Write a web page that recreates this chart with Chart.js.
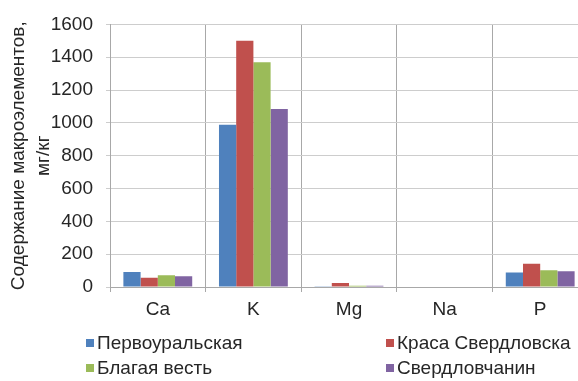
<!DOCTYPE html>
<html>
<head>
<meta charset="utf-8">
<script src="https://cdn.jsdelivr.net/npm/chart.js@4"></script>
<style>
  html, body { margin: 0; padding: 0; background: #fff; overflow: hidden; }
  #wrap { width: 578px; height: 381px; overflow: hidden; }
  canvas { display: block; }
</style>
</head>
<body>
<div id="wrap"><canvas id="chart" width="600" height="381"></canvas></div>
<script>
// Macronutrient content by variety, mg/kg
const categories = ['Ca', 'K', 'Mg', 'Na', 'P'];
const seriesNames = ['Первоуральская', 'Краса Свердловска', 'Благая весть', 'Свердловчанин'];
const pervouralskaya = [92, 988, 2, 0, 88];
const krasaSverdlovska = [56, 1500, 24, 0, 142];
const blagayaVest = [72, 1370, 8, 0, 102];
const sverdlovchanin = [66, 1084, 7, 0, 96];
const yTicks = [0, 200, 400, 600, 800, 1000, 1200, 1400, 1600];
const axisTitle = ['Содержание макроэлементов,', 'мг/кг'];

const colors = ['#4F81BD', '#C0504D', '#9BBB59', '#8064A2'];
const seriesValues = [pervouralskaya, krasaSverdlovska, blagayaVest, sverdlovchanin];
const FONT = "'Liberation Sans', Arial, sans-serif";
const TEXT = '#262626';
const FS = 19;

// Two-column legend drawn below the axis
const gridLegend = {
  id: 'gridLegend',
  afterDraw(chart) {
    const ctx = chart.ctx;
    const cols = [86, 386];
    const rows = [343, 368];
    ctx.save();
    ctx.font = FS + 'px ' + FONT;
    ctx.textBaseline = 'middle';
    ctx.textAlign = 'left';
    chart.data.datasets.forEach((ds, i) => {
      const x = cols[i % 2];
      const y = rows[Math.floor(i / 2)];
      ctx.fillStyle = ds.backgroundColor;
      ctx.fillRect(x, y - 4, 8, 8);
      ctx.fillStyle = TEXT;
      ctx.fillText(ds.label, x + 11, y + 1);
    });
    ctx.restore();
  }
};

new Chart(document.getElementById('chart'), {
  type: 'bar',
  data: {
    labels: categories,
    datasets: seriesNames.map((name, i) => ({
      label: name,
      data: seriesValues[i],
      backgroundColor: colors[i],
      borderWidth: 0,
      barPercentage: 1,
      categoryPercentage: 0.72
    }))
  },
  options: {
    responsive: false,
    devicePixelRatio: 1,
    animation: false,
    layout: { padding: { left: 0, right: 12, top: 21, bottom: 54 } },
    plugins: {
      legend: { display: false },
      tooltip: { enabled: false }
    },
    scales: {
      x: {
        grid: { offset: true, color: '#a8a8a8', tickLength: 5, lineWidth: 1 },
        border: { display: true, color: '#a8a8a8' },
        ticks: { font: { family: FONT, size: FS }, color: TEXT, padding: 6 },
        afterFit(scale) { scale.height = 40; }
      },
      y: {
        min: 0,
        max: 1600,
        afterBuildTicks(scale) { scale.ticks = yTicks.map(v => ({ value: v })); },
        grid: { color: '#cdcdcd', tickLength: 4 },
        border: { display: true, color: '#a8a8a8' },
        ticks: {
          font: { family: FONT, size: FS },
          color: TEXT,
          padding: 13,
          callback: v => String(v)
        },
        title: {
          display: true,
          text: axisTitle,
          font: { family: FONT, size: FS, lineHeight: 1.32 },
          color: TEXT,
          padding: { top: 6, bottom: 0 }
        },
        afterFit(scale) { scale.width = 110; }
      }
    }
  },
  plugins: [gridLegend]
});
</script>
</body>
</html>
